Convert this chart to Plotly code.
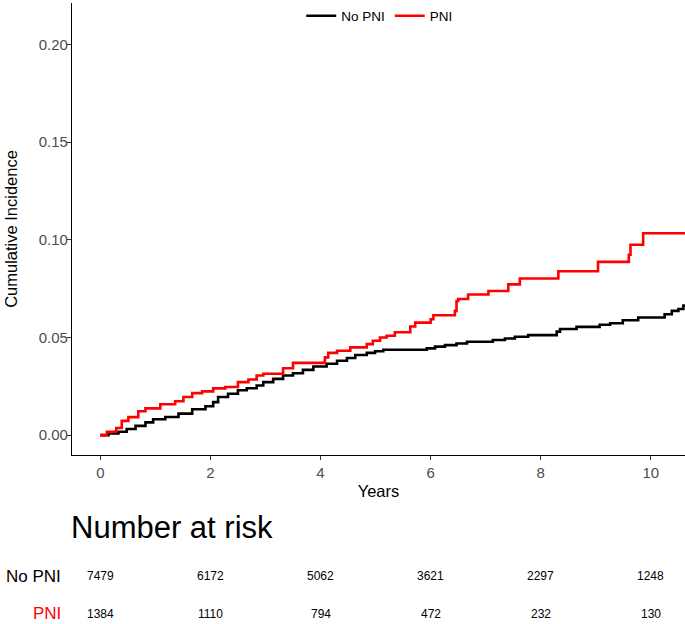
import plotly.graph_objects as go

# ---- data ----
groups = ["No PNI", "PNI"]
colors = ["#000000", "#FF0000"]

nopni_time = [0, 0.15, 0.33, 0.48, 0.64, 0.82, 0.96, 1.18, 1.42, 1.67, 1.91, 2.05, 2.14,
              2.32, 2.50, 2.66, 2.84, 2.96, 3.14, 3.32, 3.50, 3.68, 3.87, 4.11, 4.30, 4.48,
              4.63, 4.84, 4.99, 5.14, 5.93, 6.08, 6.26, 6.47, 6.66, 7.13, 7.35, 7.53, 7.77,
              8.29, 8.35, 8.65, 9.07, 9.26, 9.49, 9.77, 10.25, 10.38, 10.50, 10.59, 10.65]
nopni_ci = [0, 0.0008, 0.0017, 0.0031, 0.0047, 0.0065, 0.0081, 0.0093, 0.0110, 0.0132, 0.0148,
            0.0169, 0.0195, 0.0212, 0.0230, 0.0240, 0.0254, 0.0271, 0.0288, 0.0305, 0.0317,
            0.0334, 0.0351, 0.0365, 0.0381, 0.0395, 0.0410, 0.0421, 0.0429, 0.0437, 0.0444,
            0.0453, 0.0461, 0.0469, 0.0478, 0.0487, 0.0495, 0.0504, 0.0512, 0.0530, 0.0543,
            0.0554, 0.0565, 0.0573, 0.0588, 0.0602, 0.0619, 0.0636, 0.0646, 0.0663, 0.0670]

pni_time = [0, 0.12, 0.29, 0.39, 0.51, 0.69, 0.82, 1.09, 1.36, 1.51, 1.67, 1.85, 2.05, 2.27,
            2.50, 2.69, 2.84, 2.96, 3.32, 3.50, 4.08, 4.14, 4.30, 4.54, 4.84, 4.95, 5.08,
            5.20, 5.35, 5.63, 5.72, 6.00, 6.05, 6.44, 6.47, 6.50, 6.68, 7.05, 7.41, 7.62,
            8.32, 9.04, 9.60, 9.63, 9.86, 10.65]
pni_ci = [0, 0.0017, 0.0036, 0.0073, 0.0092, 0.0122, 0.0137, 0.0158, 0.0173, 0.0195, 0.0215,
          0.0224, 0.0239, 0.0246, 0.0271, 0.0285, 0.0305, 0.0314, 0.0342, 0.0370, 0.0398,
          0.0421, 0.0432, 0.0449, 0.0466, 0.0483, 0.0500, 0.0509, 0.0527, 0.0556, 0.0576,
          0.0593, 0.0614, 0.0636, 0.0687, 0.0697, 0.0720, 0.0738, 0.0772, 0.0802, 0.0839,
          0.0887, 0.0924, 0.0975, 0.1034, 0.1034]

risk_times = [0, 2, 4, 6, 8, 10]
risk_nopni = [7479, 6172, 5062, 3621, 2297, 1248]
risk_pni = [1384, 1110, 794, 472, 232, 130]

x_ticks = [0, 2, 4, 6, 8, 10]
y_ticks = [0.00, 0.05, 0.10, 0.15, 0.20]

FONT = "Liberation Sans, Arial, sans-serif"
W, H = 685, 624
ML, MR, MT, MB = 72, 0, 0, 169
plot_h = H - MT - MB
plot_w = W - ML - MR


def py(pix):
    """pixel row -> paper y"""
    return (H - MB - pix) / plot_h


def px(pix):
    return (pix - ML) / plot_w


fig = go.Figure()
for name, col, t, v in [(groups[0], colors[0], nopni_time, nopni_ci),
                        (groups[1], colors[1], pni_time, pni_ci)]:
    fig.add_trace(go.Scatter(x=t, y=v, mode="lines", name=name,
                             line=dict(color=col, width=2.6, shape="hv")))

annotations = []
annotations.append(dict(text="Number at risk", x=px(69), y=py(528), xref="paper", yref="paper",
                        xanchor="left", yanchor="middle", showarrow=False,
                        font=dict(family=FONT, size=31, color="#000000")))
for label, col, counts, ypix in [(groups[0], colors[0], risk_nopni, 577),
                                 (groups[1], colors[1], risk_pni, 615)]:
    annotations.append(dict(text=label, x=px(63), y=py(ypix), xref="paper", yref="paper",
                            xanchor="right", yanchor="middle", showarrow=False,
                            font=dict(family=FONT, size=17, color=col)))
    for t, n in zip(risk_times, counts):
        annotations.append(dict(text=str(n), x=t, y=py(ypix), xref="x", yref="paper",
                                xanchor="center", yanchor="middle", showarrow=False,
                                font=dict(family=FONT, size=12, color="#000000")))

fig.update_layout(
    width=W, height=H,
    margin=dict(l=ML, r=MR, t=MT, b=MB),
    paper_bgcolor="white", plot_bgcolor="white",
    font=dict(family=FONT, color="#000000"),
    showlegend=True,
    legend=dict(orientation="h", x=0.502, xanchor="center", y=py(13), yanchor="middle",
                font=dict(family=FONT, size=13.5, color="#000000"),
                bgcolor="rgba(0,0,0,0)", itemwidth=30),
    annotations=annotations,
    xaxis=dict(range=[-0.514, 10.62], tickvals=x_ticks, ticktext=[str(v) for v in x_ticks],
               showline=True, linecolor="#000000", linewidth=1.2, showgrid=False, zeroline=False,
               ticks="outside", ticklen=4, tickcolor="#333333", tickwidth=1,
               tickfont=dict(family=FONT, size=15, color="#4d4d4d"),
               title=dict(text="Years", font=dict(family=FONT, size=16.5, color="#000000"),
                          standoff=5)),
    yaxis=dict(range=[-0.0102, 0.2213], tickvals=y_ticks, tickformat=".2f",
               showline=True, linecolor="#000000", linewidth=1.2, showgrid=False, zeroline=False,
               ticks="outside", ticklen=4, tickcolor="#333333", tickwidth=1,
               ticklabelstandoff=-4,
               tickfont=dict(family=FONT, size=15, color="#4d4d4d"),
               title=dict(text="Cumulative Incidence",
                          font=dict(family=FONT, size=16.5, color="#000000"), standoff=16)),
)

fig.write_html("out.html", config={"displayModeBar": False},
               post_script="document.body.style.margin='0px';")
